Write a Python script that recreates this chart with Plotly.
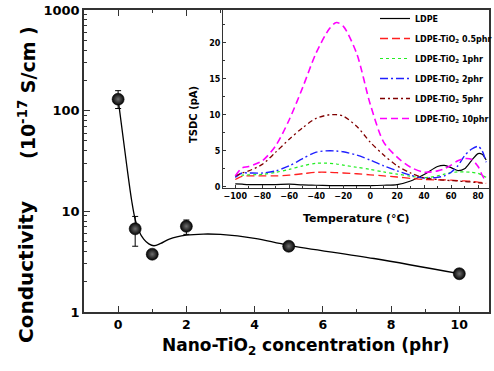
import plotly.graph_objects as go

# ---- main chart: conductivity vs nano-TiO2 loading ----
conc = [0, 0.5, 1, 2, 5, 10]
conductivity = [130, 6.7, 3.75, 7.1, 4.5, 2.4]
err_plus = [28, 2.2, 0.25, 1.1, 0.3, 0.25]
err_minus = [25, 2.2, 0.25, 1.2, 0.3, 0.25]

# smooth guide line through the measurements
fit_conc = [0, 0.25, 0.4, 0.5, 0.6, 0.75, 0.9, 1.05, 1.25, 1.5, 2.0, 2.5, 3.0, 4.0, 5.0, 7.5, 10.0]
fit_cond = [130, 29, 12.6, 8.3, 6.5, 5.3, 4.75, 4.55, 4.8, 5.3, 5.8, 5.95, 5.9, 5.4, 4.6, 3.4, 2.4]

# ---- inset: TSDC spectra ----
temp = [-100, -95, -90, -80, -70, -60, -50, -40, -30, -25, -20, -10, 0, 10, 20,
        30, 40, 50, 55, 60, 65, 70, 75, 80, 83, 86]
tsdc_ldpe = [0.4, 0.35, 0.3, 0.3, 0.3, 0.35, 0.25, 0.2, 0.15, 0.15, 0.15, 0.15, 0.15, 0.2, 0.3,
             0.8, 1.7, 2.8, 2.95, 2.65, 2.25, 2.5, 3.6, 4.6, 4.5, 3.7]
tsdc_05 = [1.0, 1.45, 1.5, 1.5, 1.5, 1.6, 1.8, 2.0, 2.0, 1.95, 1.9, 1.8, 1.65, 1.5, 1.35,
           1.15, 1.0, 0.95, 0.95, 0.9, 0.85, 0.8, 0.75, 0.65, 0.55, 0.45]
tsdc_1 = [1.5, 1.6, 1.65, 1.7, 2.0, 2.4, 2.9, 3.25, 3.25, 3.15, 3.0, 2.7, 2.4, 2.05, 1.75,
          1.45, 1.25, 1.5, 1.75, 1.95, 2.05, 2.05, 2.0, 1.85, 1.6, 1.3]
tsdc_2 = [1.3, 1.9, 1.9, 1.9, 2.2, 2.9, 3.9, 4.8, 5.0, 4.95, 4.85, 4.4, 3.7, 2.9, 2.2,
          1.6, 1.2, 1.3, 1.5, 2.0, 2.9, 4.3, 5.2, 5.6, 5.0, 3.4]
tsdc_5 = [1.5, 1.9, 2.2, 3.1, 4.8, 6.6, 8.2, 9.5, 10.0, 10.0, 9.8, 8.4, 6.2, 4.4, 2.9,
          1.9, 1.2, 1.0, 0.9, 0.85, 0.8, 0.7, 0.65, 0.55, 0.5, 0.45]
tsdc_10 = [1.5, 2.6, 2.8, 3.6, 5.7, 9.3, 13.8, 18.6, 22.0, 22.8, 22.3, 18.5, 11.5, 6.2, 4.1,
           2.7, 2.0, 2.2, 2.5, 3.0, 3.6, 3.9, 3.8, 2.8, 1.6, 0.7]

series_names = ["LDPE", "LDPE-TiO<sub>2</sub> 0.5phr", "LDPE-TiO<sub>2</sub> 1phr",
                "LDPE-TiO<sub>2</sub> 2phr", "LDPE-TiO<sub>2</sub> 5phr",
                "LDPE-TiO<sub>2</sub> 10phr"]
series_values = [tsdc_ldpe, tsdc_05, tsdc_1, tsdc_2, tsdc_5, tsdc_10]
series_colors = ["#000000", "#ff2020", "#22ee22", "#2020ff", "#800000", "#ff00ff"]
series_dash = ["solid", "8px,4px", "3px,3px", "8px,3px,2px,3px", "5px,3px,2px,3px", "7px,4px"]
series_width = [1.2, 1.3, 1.2, 1.4, 1.3, 1.6]

FONT = "DejaVu Sans"
AX = "#333333"

fig = go.Figure()

fig.add_trace(go.Scatter(
    x=fit_conc, y=fit_cond, mode="lines",
    line=dict(color="black", width=1.3, shape="spline", smoothing=1.0),
    showlegend=False, hoverinfo="skip", xaxis="x", yaxis="y"))

fig.add_trace(go.Scatter(
    x=conc, y=conductivity, mode="markers",
    marker=dict(size=12, color="#050505",
                gradient=dict(type="radial", color="#6e6e6e"),
                line=dict(color="black", width=0.6)),
    error_y=dict(type="data", array=err_plus, arrayminus=err_minus,
                 color="black", thickness=1, width=3),
    showlegend=False, xaxis="x", yaxis="y"))

for i, (name, vals) in enumerate(zip(series_names, series_values)):
    fig.add_trace(go.Scatter(
        x=temp, y=vals, mode="lines", name=name, legendgroup=f"g{i}",
        line=dict(color=series_colors[i], dash=series_dash[i],
                  width=series_width[i], shape="spline", smoothing=0.8),
        xaxis="x2", yaxis="y2"))

inset_x0 = (223 - 84) / 405
inset_y0 = (312 - 188) / 302

fig.update_layout(
    width=494, height=371,
    margin=dict(l=84, r=5, t=10, b=59, autoexpand=False),
    paper_bgcolor="white", plot_bgcolor="white",
    font=dict(family=FONT, color="black", weight="bold"),
    xaxis=dict(
        domain=[0, 1], range=[-1, 10.87], anchor="y",
        tickmode="linear", tick0=0, dtick=2,
        ticks="inside", ticklen=6, tickwidth=1.2, tickcolor=AX,
        minor=dict(ticks="inside", ticklen=3, dtick=1, tick0=0, tickcolor=AX),
        showline=True, linecolor=AX, linewidth=1.5, mirror="ticks",
        showgrid=False, zeroline=False,
        tickfont=dict(size=12.5, family=FONT, weight="bold")),
    yaxis=dict(
        domain=[0, 1], type="log", range=[0, 3], anchor="x",
        tickvals=[1, 10, 100, 1000], ticktext=["1", "10", "100", "1000"],
        ticks="inside", ticklen=6, tickwidth=1.2, tickcolor=AX,
        minor=dict(ticks="inside", ticklen=3, dtick="D1", tickcolor=AX),
        showline=True, linecolor=AX, linewidth=1.5, mirror=True,
        showgrid=False, zeroline=False,
        tickfont=dict(size=13, family=FONT, weight="bold")),
    xaxis2=dict(
        domain=[inset_x0, 1], range=[-109.1, 88.1], anchor="y2",
        tickmode="linear", tick0=-100, dtick=20,
        ticks="inside", ticklen=3, tickwidth=1, tickcolor=AX,
        minor=dict(ticks="inside", ticklen=2, dtick=10, tick0=-100, tickcolor=AX),
        showline=True, linecolor=AX, linewidth=1, mirror=True,
        showgrid=False, zeroline=False,
        tickfont=dict(size=8, family=FONT, weight="bold")),
    yaxis2=dict(
        domain=[inset_y0, 1], range=[-0.18, 24.54], anchor="x2",
        tickmode="linear", tick0=0, dtick=5,
        ticks="inside", ticklen=3, tickwidth=1, tickcolor=AX,
        minor=dict(ticks="inside", ticklen=2, dtick=2.5, tick0=0, tickcolor=AX),
        showline=True, linecolor=AX, linewidth=1, mirror=True,
        showgrid=False, zeroline=False,
        tickfont=dict(size=8, family=FONT, weight="bold")),
    legend=dict(
        x=(375 - 84) / 405, y=1.0 + 6 / 302, xanchor="left", yanchor="top",
        bgcolor="rgba(0,0,0,0)", borderwidth=0, tracegroupgap=1,
        font=dict(size=8, family=FONT, weight="bold")),
)

annotations = [
    dict(text="Conductivity", x=(26 - 84) / 405, y=(312 - 272) / 302,
         textangle=-90, font=dict(size=20)),
    dict(text="(10<sup>-17</sup> S/cm )", x=(27 - 84) / 405, y=(312 - 92) / 302,
         textangle=-90, font=dict(size=19)),
    dict(text="Nano-TiO<sub>2</sub> concentration (phr)", x=(306 - 84) / 405,
         y=(312 - 346) / 302, font=dict(size=17)),
    dict(text="TSDC (pA)", x=(193 - 84) / 405, y=(312 - 115) / 302,
         textangle=-90, font=dict(size=10)),
    dict(text="Temperature (°C)", x=(356.5 - 84) / 405, y=(312 - 218) / 302,
         font=dict(size=11)),
]
for a in annotations:
    a.update(xref="paper", yref="paper", showarrow=False,
             xanchor="center", yanchor="middle")
    a["font"].update(family=FONT, weight="bold", color="black")
fig.update_layout(annotations=annotations)

fig.write_html("out.html")
